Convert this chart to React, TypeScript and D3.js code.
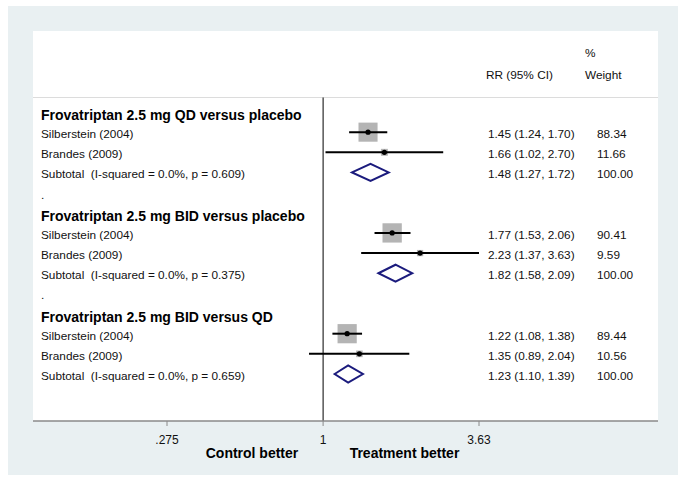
import React from "react";
import * as d3 from "d3";

const groupTitles = [
  "Frovatriptan 2.5 mg QD versus placebo",
  "Frovatriptan 2.5 mg BID versus placebo",
  "Frovatriptan 2.5 mg BID versus QD",
];
const studyNames = ["Silberstein (2004)", "Brandes (2009)"];
const studyRR = [[1.45, 1.66], [1.77, 2.23], [1.22, 1.35]];
const studyLo = [[1.24, 1.02], [1.53, 1.37], [1.08, 0.89]];
const studyHi = [[1.70, 2.70], [2.06, 3.63], [1.38, 2.04]];
const studyWeight = [[88.34, 11.66], [90.41, 9.59], [89.44, 10.56]];
const subRR = [1.48, 1.82, 1.23];
const subLo = [1.27, 1.58, 1.10];
const subHi = [1.72, 2.09, 1.39];
const subI2 = ["0.0%", "0.0%", "0.0%"];
const subP = ["0.609", "0.375", "0.659"];
const tickValues = [0.275, 1, 3.63];
const tickLabels = [".275", "1", "3.63"];

const W = 685;
const H = 482;
const font = "'Liberation Sans', Arial, sans-serif";
const navy = "#1b1b7d";
const fs = 11.8;
const fsB = 14;

const fmt = (v: number) => v.toFixed(2);

export default function App() {
  const x = d3.scaleLog().domain([0.275, 3.63]).range([167, 479]);
  const y = d3.scaleLinear().domain([0, 13]).range([112, 374]);
  const sq = d3.scaleSqrt().domain([0, 100]).range([0, 20.3]);

  const plotLeft = 33, plotRight = 658, plotTop = 31, axisY = 421;
  const x1 = x(1);

  const rows: React.ReactNode[] = [];
  groupTitles.forEach((g, gi) => {
    const base = gi * 5;
    rows.push(
      <text key={`g${gi}`} x={41} y={y(base) + 3} dominantBaseline="central"
        fontSize={fsB} fontWeight="bold" fill="#000">{g}</text>
    );
    studyNames.forEach((s, si) => {
      const ry = y(base + 1 + si);
      const side = sq(studyWeight[gi][si]);
      rows.push(
        <g key={`s${gi}-${si}`}>
          <text x={41} y={ry + 2} dominantBaseline="central" fontSize={fs} fill="#111">{s}</text>
          <rect x={x(studyRR[gi][si]) - side / 2} y={ry - side / 2} width={side} height={side} fill="#b4b4b4" />
          <line x1={x(studyLo[gi][si])} x2={x(studyHi[gi][si])} y1={ry} y2={ry} stroke="#000" strokeWidth={2} />
          <circle cx={x(studyRR[gi][si])} cy={ry} r={2.6} fill="#000" />
          <text x={488} y={ry + 2} dominantBaseline="central" fontSize={fs} fill="#111">
            {`${fmt(studyRR[gi][si])} (${fmt(studyLo[gi][si])}, ${fmt(studyHi[gi][si])})`}
          </text>
          <text x={597} y={ry + 2} dominantBaseline="central" fontSize={fs} fill="#111">{fmt(studyWeight[gi][si])}</text>
        </g>
      );
    });
    const sy = y(base + 3);
    const dl = x(subLo[gi]), dr = x(subHi[gi]), dc = x(subRR[gi]);
    rows.push(
      <g key={`sub${gi}`}>
        <text x={41} y={sy + 2} dominantBaseline="central" fontSize={fs} fill="#111" style={{ whiteSpace: "pre" }}>
          {`Subtotal  (I-squared = ${subI2[gi]}, p = ${subP[gi]})`}
        </text>
        <path d={`M${dl},${sy} L${dc},${sy - 8.5} L${dr},${sy} L${dc},${sy + 8.5} Z`} fill="#fff" stroke={navy} strokeWidth={2} />
        <text x={488} y={sy + 2} dominantBaseline="central" fontSize={fs} fill="#111">
          {`${fmt(subRR[gi])} (${fmt(subLo[gi])}, ${fmt(subHi[gi])})`}
        </text>
        <text x={597} y={sy + 2} dominantBaseline="central" fontSize={fs} fill="#111">100.00</text>
      </g>
    );
    if (gi < groupTitles.length - 1) {
      rows.push(
        <text key={`dot${gi}`} x={41} y={y(base + 4) + 2} dominantBaseline="central" fontSize={fs} fill="#111">.</text>
      );
    }
  });

  return (
    <svg width={W} height={H} style={{ position: "absolute", left: 0, top: 0 }} fontFamily={font}>
      <rect x={0} y={0} width={W} height={H} fill="#fff" />
      <rect x={8} y={6} width={670} height={469} fill="#e9f0f2" />
      <rect x={plotLeft} y={plotTop} width={plotRight - plotLeft} height={axisY - plotTop} fill="#fff" />
      <line x1={plotLeft} x2={plotRight} y1={97.5} y2={97.5} stroke="#dcdcdc" strokeWidth={1} />
      <line x1={x1} x2={x1} y1={97.5} y2={axisY} stroke="#000" strokeWidth={1} />
      <text x={585} y={53} dominantBaseline="central" fontSize={fs} fill="#111">%</text>
      <text x={486} y={75} dominantBaseline="central" fontSize={fs} fill="#111">RR (95% CI)</text>
      <text x={585} y={75} dominantBaseline="central" fontSize={fs} fill="#111">Weight</text>
      {rows}
      <line x1={plotLeft} x2={plotRight} y1={axisY} y2={axisY} stroke="#8a8a8a" strokeWidth={1.5} />
      {tickValues.map((t, i) => (
        <g key={`t${i}`}>
          <line x1={x(t)} x2={x(t)} y1={axisY} y2={axisY + 5} stroke="#8a8a8a" strokeWidth={1} />
          <text x={x(t)} y={440} textAnchor="middle" dominantBaseline="central" fontSize={12} fill="#111">{tickLabels[i]}</text>
        </g>
      ))}
      <text x={252} y={453} textAnchor="middle" dominantBaseline="central" fontSize={fsB} fontWeight="bold" fill="#000">Control better</text>
      <text x={404.5} y={453} textAnchor="middle" dominantBaseline="central" fontSize={fsB} fontWeight="bold" fill="#000">Treatment better</text>
    </svg>
  );
}
